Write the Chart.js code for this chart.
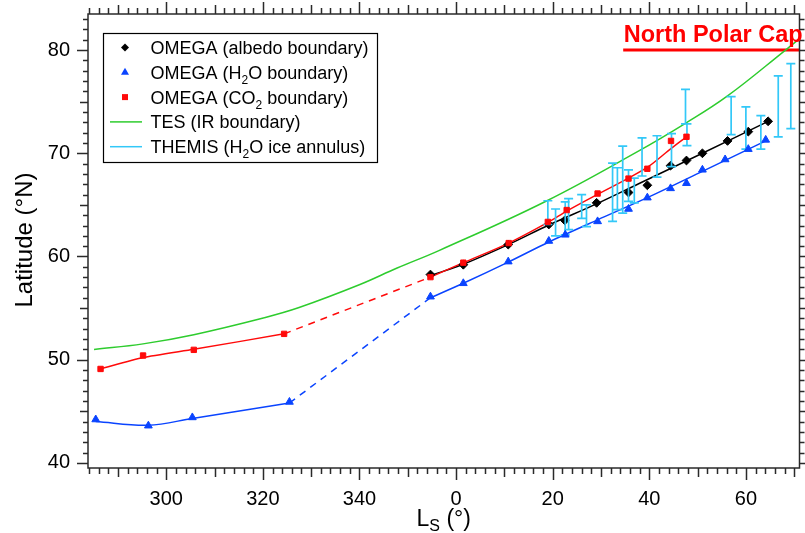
<!DOCTYPE html>
<html>
<head>
<meta charset="utf-8">
<script src="https://cdn.jsdelivr.net/npm/chart.js@4.4.1/dist/chart.umd.min.js"></script>
<style>
  html, body { margin: 0; padding: 0; background: #fff; }
</style>
</head>
<body>
<canvas id="grafico" width="805" height="533"></canvas>
<script>
// OMEGA (albedo boundary) - black diamonds
const albedoLs = [354.7, 361.5, 370.8, 379.2, 382.5, 389.1, 395.7, 399.6, 404.4, 407.7, 411.0, 416.2, 420.5, 424.6];
const albedoLat = [58.25, 59.2, 61.15, 63.1, 63.5, 65.2, 66.2, 66.9, 68.8, 69.3, 70.0, 71.2, 72.1, 73.1];
// line drawn through them
const albedoFitLs = [354.7, 361.5, 370.8, 379.2, 389.1, 397.8, 411.0, 424.6];
const albedoFitLat = [58.15, 59.25, 61.15, 63.05, 65.1, 67.05, 70.0, 73.1];

// OMEGA (H2O boundary) - blue triangles
const h2oLs = [285.4, 296.3, 305.4, 325.5, 354.7, 361.5, 370.8, 379.2, 382.6, 389.3, 395.7, 399.6, 404.4, 407.7, 411.0, 415.7, 420.5, 424.1];
const h2oLat = [44.2, 43.6, 44.4, 45.9, 56.1, 57.4, 59.5, 61.5, 62.1, 63.4, 64.6, 65.7, 66.6, 67.1, 68.4, 69.4, 70.4, 71.3];
const h2oFitLs = [285.4, 296.3, 305.4, 325.5, 354.7, 361.5, 370.8, 379.2, 389.3, 399.6, 411.0, 424.1];
const h2oFitLat = [44.0, 43.65, 44.3, 45.8, 56.0, 57.4, 59.45, 61.4, 63.55, 65.7, 68.25, 71.2];

// OMEGA (CO2 boundary) - red squares
const co2Ls = [286.4, 295.2, 305.7, 324.4, 354.7, 361.5, 370.9, 379.0, 382.9, 389.3, 395.7, 399.6, 404.5, 407.7];
const co2Lat = [49.1, 50.4, 50.95, 52.5, 58.0, 59.4, 61.3, 63.35, 64.5, 66.1, 67.55, 68.5, 71.2, 71.6];
const co2FitLs = [286.4, 295.2, 305.7, 324.4, 354.7, 361.5, 370.9, 379.2, 382.9, 388.8, 395.7, 399.8, 404.6, 407.7];
const co2FitLat = [49.1, 50.2, 51.0, 52.5, 58.0, 59.4, 61.3, 63.35, 64.4, 65.9, 67.6, 68.7, 70.5, 71.6];

// TES (IR boundary) - green curve
const tesLs = [285.05, 295.2, 305.7, 320.1, 327.5, 340.1, 347.8, 356.45, 378.5, 397.75, 407.4, 416.2, 428.4, 431.2];
const tesLat = [50.98, 51.53, 52.42, 54.04, 55.05, 57.28, 58.88, 60.57, 65.33, 70.21, 72.88, 75.56, 80.08, 81.14];

// THEMIS (H2O ice annulus) - error bars
const themisLs = [379.0, 380.6, 382.6, 383.3, 386.0, 387.0, 392.4, 393.4, 394.5, 395.7, 396.9, 398.5, 401.6, 404.6, 407.5, 407.8, 416.95, 420.0, 423.1, 426.7, 429.3];
const themisLo = [63.1, 62.0, 62.1, 62.6, 63.7, 62.9, 63.4, 64.55, 64.2, 65.35, 65.2, 67.8, 67.7, 68.7, 72.85, 70.75, 71.8, 70.4, 70.4, 71.6, 72.4];
const themisHi = [65.4, 64.6, 65.3, 65.6, 66.0, 65.0, 69.05, 68.6, 70.7, 68.4, 67.6, 71.5, 71.7, 71.9, 76.2, 72.85, 75.5, 74.5, 73.65, 77.5, 78.7];

// North Polar Cap marker line
const capLs = [394.6, 431.5];
const capLat = [80, 80];

const xTickValues = [300, 320, 340, 360, 380, 400, 420];
const xTickLabels = ['300', '320', '340', '0', '20', '40', '60'];
const yTickValues = [40, 50, 60, 70, 80];
const yTickLabels = ['40', '50', '60', '70', '80'];

const FONT = "'Liberation Sans', Arial, sans-serif";
const BLUE = '#0a44ff';
const RED = '#ff0a0a';
const GREEN = '#2ecc2e';
const CYAN = '#33c8f8';

function pts(xs, ys) {
    return xs.map((x, i) => ({ x: x, y: ys[i] }));
}

const legendItems = [
    { kind: 'diamond', color: '#000', parts: [['OMEGA (albedo boundary)', false]] },
    { kind: 'triangle', color: BLUE, parts: [['OMEGA (H', false], ['2', true], ['O boundary)', false]] },
    { kind: 'square', color: RED, parts: [['OMEGA (CO', false], ['2', true], [' boundary)', false]] },
    { kind: 'line', color: GREEN, parts: [['TES (IR boundary)', false]] },
    { kind: 'line', color: CYAN, parts: [['THEMIS (H', false], ['2', true], ['O ice annulus)', false]] }
];

const errorBars = {
    id: 'errorBars',
    afterDatasetDraw(chart, args) {
        if (args.index !== 2) return;
        const ctx = chart.ctx;
        const xs = chart.scales.x, ys = chart.scales.y;
        ctx.save();
        ctx.strokeStyle = CYAN;
        ctx.lineWidth = 1.7;
        ctx.beginPath();
        themisLs.forEach((l, i) => {
            const px = xs.getPixelForValue(l);
            const y1 = ys.getPixelForValue(themisLo[i]);
            const y2 = ys.getPixelForValue(themisHi[i]);
            ctx.moveTo(px, y1); ctx.lineTo(px, y2);
            ctx.moveTo(px - 4.5, y1); ctx.lineTo(px + 4.5, y1);
            ctx.moveTo(px - 4.5, y2); ctx.lineTo(px + 4.5, y2);
        });
        ctx.stroke();
        ctx.restore();
    }
};

function marker(ctx, kind, x, y, color) {
    ctx.fillStyle = color;
    ctx.strokeStyle = color;
    ctx.beginPath();
    if (kind === 'diamond') {
        ctx.moveTo(x - 4, y); ctx.lineTo(x, y - 4); ctx.lineTo(x + 4, y); ctx.lineTo(x, y + 4);
        ctx.closePath(); ctx.fill();
    } else if (kind === 'triangle') {
        ctx.moveTo(x, y - 4.5); ctx.lineTo(x + 4, y + 2.5); ctx.lineTo(x - 4, y + 2.5);
        ctx.closePath(); ctx.fill();
    } else if (kind === 'square') {
        ctx.fillRect(x - 3, y - 3, 6, 6);
    } else {
        ctx.lineWidth = 1.5;
        ctx.moveTo(110, y); ctx.lineTo(142, y); ctx.stroke();
    }
}

const frameAndText = {
    id: 'frameAndText',
    afterDraw(chart) {
        const ctx = chart.ctx;
        const ca = chart.chartArea;
        const xs = chart.scales.x, ys = chart.scales.y;
        ctx.save();

        // frame and ticks (all four sides, outside)
        ctx.strokeStyle = '#2a2a2a';
        ctx.lineWidth = 1.5;
        ctx.strokeRect(ca.left, ca.top, ca.right - ca.left, ca.bottom - ca.top);
        ctx.beginPath();
        for (let v = 284; v <= 431; v += 2) {
            const px = Math.round(xs.getPixelForValue(v)) + 0.5;
            const len = v % 20 === 0 ? 12 : (v % 10 === 0 ? 9 : 6);
            ctx.moveTo(px, ca.bottom); ctx.lineTo(px, ca.bottom + len);
            ctx.moveTo(px, ca.top); ctx.lineTo(px, ca.top - len);
        }
        for (let v = 40; v <= 83; v += 1) {
            const py = Math.round(ys.getPixelForValue(v)) + 0.5;
            const len = v % 10 === 0 ? 11 : (v % 5 === 0 ? 8 : 5);
            ctx.moveTo(ca.left, py); ctx.lineTo(ca.left - len, py);
            ctx.moveTo(ca.right, py); ctx.lineTo(ca.right + len, py);
        }
        ctx.stroke();

        // North Polar Cap label
        const capY = ys.getPixelForValue(capLat[0]);
        ctx.fillStyle = '#ff0000';
        ctx.font = 'bold 23.5px ' + FONT;
        ctx.textBaseline = 'alphabetic';
        ctx.textAlign = 'left';
        ctx.fillText('North Polar Cap', xs.getPixelForValue(capLs[0]) + 0.5, capY - 8.5);

        // legend
        ctx.fillStyle = '#fff';
        ctx.fillRect(103, 33, 275, 130);
        ctx.strokeStyle = '#000';
        ctx.lineWidth = 1.2;
        ctx.strokeRect(103.5, 33.5, 274, 129);
        legendItems.forEach((it, i) => {
            const cy = 47.5 + i * 24.8;
            marker(ctx, it.kind, 125, cy, it.color);
            let tx = 150.5;
            const base = cy + 6.5;
            ctx.fillStyle = '#000';
            it.parts.forEach(p => {
                ctx.font = (p[1] ? '12px ' : '18px ') + FONT;
                ctx.fillText(p[0], tx, p[1] ? base + 5 : base);
                tx += ctx.measureText(p[0]).width;
            });
        });

        // axis titles
        ctx.fillStyle = '#000';
        ctx.save();
        ctx.translate(32, 240);
        ctx.rotate(-Math.PI / 2);
        ctx.font = '24px ' + FONT;
        ctx.textAlign = 'center';
        ctx.fillText('Latitude (°N)', 0, 0);
        ctx.restore();

        ctx.textAlign = 'left';
        ctx.font = '23px ' + FONT;
        const wL = ctx.measureText('L').width;
        const wRest = ctx.measureText(' (°)').width;
        ctx.font = '16px ' + FONT;
        const wS = ctx.measureText('S').width;
        let tx = (ca.left + ca.right) / 2 - (wL + wS + wRest) / 2;
        ctx.font = '23px ' + FONT;
        ctx.fillText('L', tx, 526);
        tx += wL;
        ctx.font = '16px ' + FONT;
        ctx.fillText('S', tx, 531);
        tx += wS;
        ctx.font = '23px ' + FONT;
        ctx.fillText(' (°)', tx, 526);

        ctx.restore();
    }
};

function fitLine(xs, ys, color, dash, tension) {
    return {
        data: pts(xs, ys), showLine: true, tension: tension,
        borderColor: color, borderWidth: 1.5, pointRadius: 0,
        borderDash: dash || []
    };
}

const grafico = new Chart(document.getElementById('grafico'), {
    type: 'scatter',
    data: {
        datasets: [
            {
                data: pts(h2oLs, h2oLat),
                pointStyle: 'triangle', pointRadius: 4.5, pointBackgroundColor: BLUE, pointBorderColor: BLUE, pointBorderWidth: 1
            },
            {
                data: pts(co2Ls, co2Lat),
                pointStyle: 'rect', pointRadius: 3.8, pointBackgroundColor: RED, pointBorderColor: RED, pointBorderWidth: 1
            },
            {
                data: pts(albedoLs, albedoLat),
                pointStyle: 'rectRot', pointRadius: 4.4, pointBackgroundColor: '#000', pointBorderColor: '#000', pointBorderWidth: 1
            },
            fitLine(h2oFitLs.slice(0, 4), h2oFitLat.slice(0, 4), BLUE, null, 0.35),
            fitLine(h2oFitLs.slice(3, 5), h2oFitLat.slice(3, 5), BLUE, [7, 6], 0),
            fitLine(h2oFitLs.slice(4), h2oFitLat.slice(4), BLUE, null, 0.3),
            fitLine(co2FitLs.slice(0, 4), co2FitLat.slice(0, 4), RED, null, 0.2),
            fitLine(co2FitLs.slice(3, 5), co2FitLat.slice(3, 5), RED, [7, 6], 0),
            fitLine(co2FitLs.slice(4), co2FitLat.slice(4), RED, null, 0.3),
            fitLine(albedoFitLs, albedoFitLat, '#000', null, 0.3),
            fitLine(tesLs, tesLat, GREEN, null, 0.4),
            {
                data: pts(capLs, capLat), showLine: true,
                borderColor: '#ff0000', borderWidth: 3, pointRadius: 0
            }
        ]
    },
    options: {
        responsive: false,
        animation: false,
        layout: { padding: { top: 14, right: 3, left: 0, bottom: 0 } },
        plugins: { legend: { display: false }, tooltip: { enabled: false }, title: { display: false } },
        scales: {
            x: {
                type: 'linear', min: 283.8, max: 431.1,
                grid: { display: false, drawTicks: false },
                border: { display: false },
                afterBuildTicks: s => { s.ticks = xTickValues.map(v => ({ value: v })); },
                afterFit: s => { s.height = 65; s.paddingLeft = 0; s.paddingRight = 0; },
                ticks: {
                    padding: 19, color: '#000', maxRotation: 0, autoSkip: false,
                    font: { family: FONT, size: 20 },
                    callback: (v, i) => xTickLabels[i]
                }
            },
            y: {
                type: 'linear', min: 39.5, max: 83.5,
                grid: { display: false, drawTicks: false },
                border: { display: false },
                afterBuildTicks: s => { s.ticks = yTickValues.map(v => ({ value: v })); },
                afterFit: s => { s.width = 88; s.paddingTop = 0; s.paddingBottom = 0; },
                ticks: {
                    padding: 18, color: '#000', autoSkip: false,
                    font: { family: FONT, size: 20 },
                    callback: (v, i) => yTickLabels[i]
                }
            }
        }
    },
    plugins: [errorBars, frameAndText]
});
</script>
</body>
</html>
